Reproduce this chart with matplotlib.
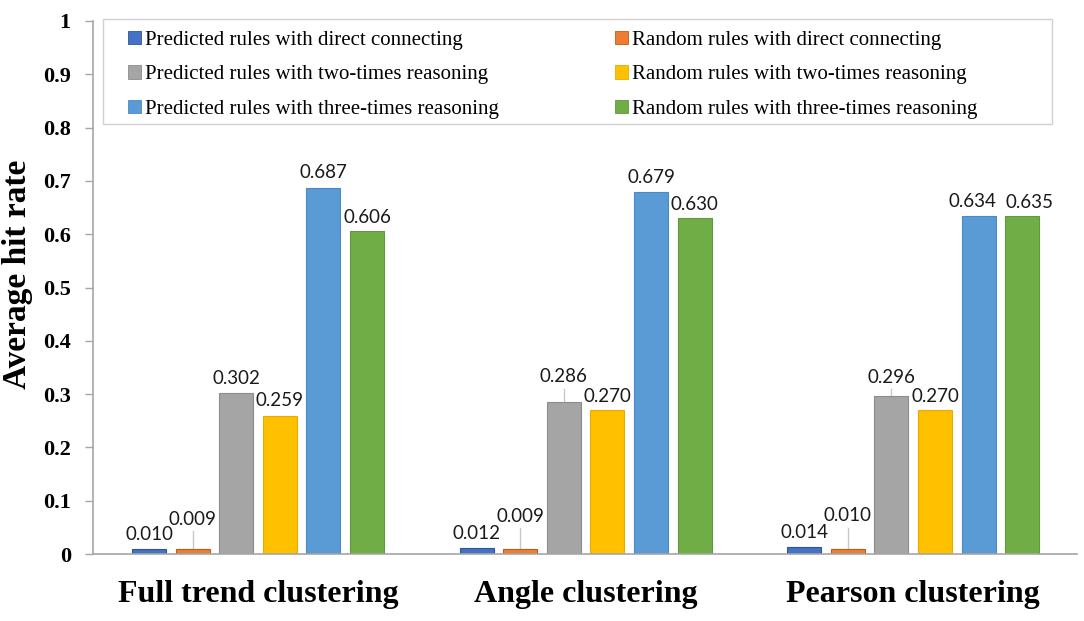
import matplotlib
matplotlib.use("Agg")
import matplotlib.pyplot as plt
from matplotlib.patches import Patch, Rectangle
import numpy as np

# ---- data ----
categories = ["Full trend clustering", "Angle clustering", "Pearson clustering"]
series_names = [
    "Predicted rules with direct connecting",
    "Random rules with direct connecting",
    "Predicted rules with two-times reasoning",
    "Random rules with two-times reasoning",
    "Predicted rules with three-times reasoning",
    "Random rules with three-times reasoning",
]
pred_direct = [0.010, 0.012, 0.014]
rand_direct = [0.009, 0.009, 0.010]
pred_two = [0.302, 0.286, 0.296]
rand_two = [0.259, 0.270, 0.270]
pred_three = [0.687, 0.679, 0.634]
rand_three = [0.606, 0.630, 0.635]
series_values = [pred_direct, rand_direct, pred_two, rand_two, pred_three, rand_three]
y_ticks = [0, 0.1, 0.2, 0.3, 0.4, 0.5, 0.6, 0.7, 0.8, 0.9, 1]
y_tick_labels = ["0", "0.1", "0.2", "0.3", "0.4", "0.5", "0.6", "0.7", "0.8", "0.9", "1"]

# ---- style ----
colors = ["#4472C4", "#ED7D31", "#A5A5A5", "#FFC000", "#5B9BD5", "#70AD47"]
edge_colors = ["#2F5597", "#C55A11", "#8C8C8C", "#E6AC00", "#4A8AC6", "#5E9A3A"]
# label offsets (pixels from bar top to label centre), per series then per group
label_dy = [
    [14, 14, 14],
    [30, 33, 33],
    [15, 25, 19],
    [15, 14, 14],
    [15, 15, 15],
    [14, 14, 13],
]
label_dx = [
    [0, 0, 0],
    [0, 0, 0],
    [0, 0, 0],
    [0, 0, 0],
    [0, 0, -6],
    [0, 0, 7],
]

W, H = 1084, 621
fig = plt.figure(figsize=(W / 100, H / 100), dpi=100)
ax = fig.add_axes([93 / W, 1 - 554 / H, 984 / W, 533 / H])

x = np.arange(len(categories))
pitch = 0.133
width = 0.104
handles = []
for i, (name, vals) in enumerate(zip(series_names, series_values)):
    pos = x + (i - 2.5) * pitch
    bars = ax.bar(pos, vals, width, color=colors[i], edgecolor=edge_colors[i],
                  linewidth=0.8, label=name, zorder=2)
    handles.append(Patch(facecolor=colors[i], edgecolor=edge_colors[i], linewidth=0.6, label=name))
    for j, (b, v) in enumerate(zip(bars, vals)):
        off = label_dy[i][j]
        cx = b.get_x() + b.get_width() / 2
        ax.annotate(f"{v:.3f}", xy=(cx, v), xytext=(label_dx[i][j], off), textcoords="offset pixels",
                    ha="center", va="center", fontsize=13.5, family=["Lato", "DejaVu Sans"],
                    color="#1a1a1a", zorder=3)
        if off >= 19:
            p0 = ax.transData.transform((cx, v))
            inv = ax.transData.inverted()
            top = inv.transform((p0[0], p0[1] + off - 12))
            ax.plot([cx, cx], [v, top[1]], color="#c8c8c8", lw=1, zorder=1)

ax.set_xlim(-0.504, 2.5)
ax.set_ylim(0, 1)
ax.set_yticks(y_ticks)
ax.set_yticklabels(y_tick_labels, fontsize=16, fontweight="bold", family="Liberation Serif")
ax.set_xticks(x)
ax.set_xticklabels(categories, fontsize=23, fontweight="bold", family="Liberation Serif")
ax.tick_params(axis="x", length=0, pad=19)
ax.tick_params(axis="y", length=6, width=1, color="#a6a6a6", direction="out", pad=10)

for s in ["top", "right"]:
    ax.spines[s].set_visible(False)
for s in ["left", "bottom"]:
    ax.spines[s].set_color("#a6a6a6")
    ax.spines[s].set_linewidth(1.2)

fig.text(18 / W, 1 - 274 / H, "Average hit rate", rotation=90, ha="center", va="center",
         fontsize=24, fontweight="bold", family="Liberation Serif")

# legend frame
frame = Rectangle((103 / W, 1 - 124 / H), (1052 - 103) / W, (124 - 19) / H,
                  transform=fig.transFigure, facecolor="white",
                  edgecolor="#d0d0d0", linewidth=1, zorder=4, clip_on=False)
ax.add_patch(frame)

order = [0, 2, 4, 1, 3, 5]
leg = ax.legend([handles[k] for k in order], [series_names[k] for k in order],
                ncol=2, loc="upper left",
                bbox_to_anchor=((128 - 93) / 984, (554 - 31) / 533),
                borderaxespad=0, frameon=False,
                prop={"family": "Liberation Serif", "size": 15},
                handlelength=0.6, handleheight=0.6, handletextpad=0.2,
                labelspacing=0.74, borderpad=0, columnspacing=5.6)
leg.set_zorder(6)

fig.savefig("out.png", dpi=100)
